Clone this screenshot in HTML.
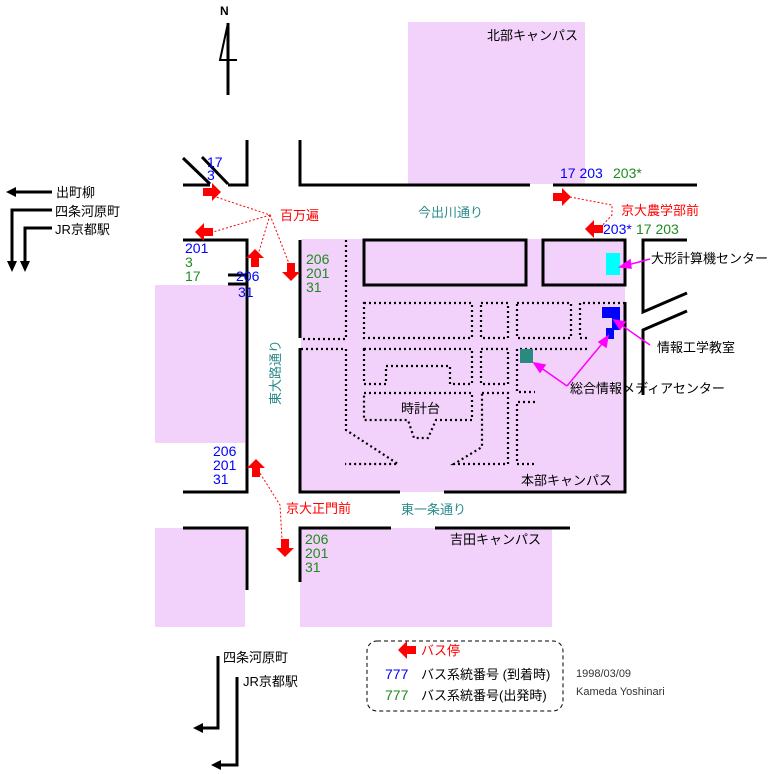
<!DOCTYPE html>
<html><head><meta charset="utf-8">
<style>
html,body{margin:0;padding:0;background:#fff;}
svg{display:block;}
text{font-family:"Liberation Sans","Noto Sans CJK JP",sans-serif;font-size:13px;}
.b{fill:#0000ff;font-size:14px;}
.g{fill:#208a20;font-size:14px;}
.r{fill:#ff0000;}
.t{fill:#2a8a8a;}
.k{fill:#000;}
</style></head><body>
<svg width="780" height="774" viewBox="0 0 780 774" xmlns="http://www.w3.org/2000/svg">
<defs>
<g id="ar"><polygon points="0,-4 9,-4 9,-9 18,0 9,9 9,4 0,4" fill="#ff0000" transform="translate(-9,0)"/></g>
</defs>
<g fill="#f2d2fa">
<rect x="408" y="22" width="177" height="162"/>
<rect x="155" y="285" width="90" height="158"/>
<rect x="301" y="239" width="324" height="253"/>
<rect x="155" y="528" width="90" height="99"/>
<rect x="300" y="528" width="252" height="99"/>
</g>
<g stroke="#000" stroke-width="3" fill="none">
<line x1="183" y1="158" x2="210" y2="184"/>
<line x1="202" y1="157" x2="228" y2="184"/>
<polyline points="183,185 210,185"/>
<polyline points="228,185 247,185 247,140"/>
<polyline points="300,140 300,185 530,185"/>
<line x1="553" y1="185" x2="697" y2="185"/>
<polyline points="183,240 247,240 247,492 183,492"/>
<line x1="228" y1="275" x2="247" y2="275"/>
<line x1="228" y1="284" x2="247" y2="284"/>
<polyline points="183,528 247,528 247,590"/>
<polyline points="300,338 300,240"/>
<polyline points="300,348 300,492 400,492"/>
<polyline points="444,492 625,492 625,302"/>
<rect x="364" y="240" width="162" height="45"/>
<rect x="543" y="240" width="82" height="45"/>
<polyline points="687,240 643,240 643,312 687,293"/>
<polyline points="687,311 643,330 643,395"/>
<polyline points="391,528 300,528 300,582"/>
<line x1="435" y1="528" x2="570" y2="528"/>
<line x1="228" y1="23" x2="228" y2="95"/>
</g>
<polyline points="228,23 220,60 237,60" stroke="#000" stroke-width="2" fill="none"/>
<text x="220" y="15" style="font-weight:bold;font-size:12px">N</text>
<g stroke="#000" stroke-width="2.2" stroke-dasharray="2,3" fill="none">
<polyline points="346,240 346,339 301,339"/>
<polyline points="301,349 346,349 346,430 398,464 345,464"/>
<rect x="364" y="303" width="108" height="35"/>
<rect x="481" y="303" width="27" height="35"/>
<rect x="517" y="303" width="54" height="35"/>
<polyline points="625,303 580,303 580,338 590,338"/>
<path d="M364,349 H472 V384 H450 V366 H386 V384 H364 Z"/>
<rect x="481" y="349" width="27" height="35"/>
<polyline points="587,349 517,349 517,392 535,392"/>
<path d="M364,393 H472 V420 H436 L428,438 H414 L408,420 H364 Z"/>
<path d="M482,393 H508 V464 H454 L482,447 Z"/>
<polyline points="535,402 517,402 517,464 535,464"/>
</g>
<rect x="606" y="253" width="14" height="22" fill="#00ffff"/>
<g fill="#0000ff">
<rect x="602" y="307" width="18" height="11"/>
<rect x="612" y="307" width="8" height="23"/>
<rect x="606" y="328" width="8" height="11"/>
</g>
<rect x="520" y="349" width="13" height="14" fill="#2a8a80"/>
<g stroke="#ff00ff" stroke-width="1.5" fill="#ff00ff">
<line x1="650" y1="259" x2="624" y2="266"/>
<polygon points="620,267 630,260 631,268"/>
<line x1="650" y1="345" x2="617" y2="322"/>
<polygon points="614,320 625,322 620,329"/>
<line x1="567" y1="386" x2="537" y2="365"/>
<polygon points="534,363 545,365 540,372"/>
<line x1="567" y1="386" x2="606" y2="339"/>
<polygon points="608,336 606,347 599,342"/>
</g>
<g stroke="#ff0000" stroke-width="1" stroke-dasharray="2,2" fill="none">
<polyline points="213,196 270,215 213,232"/>
<polyline points="270,215 257,258"/>
<polyline points="270,215 290,266"/>
<polyline points="570,197 612,205 612,215 600,228"/>
<polyline points="258,470 280,505 282,540"/>
</g>
<use href="#ar" transform="translate(212,192)"/>
<use href="#ar" transform="translate(204,232) rotate(180)"/>
<use href="#ar" transform="translate(255,258) rotate(-90)"/>
<use href="#ar" transform="translate(291,272) rotate(90)"/>
<use href="#ar" transform="translate(562,197)"/>
<use href="#ar" transform="translate(594,229) rotate(180)"/>
<use href="#ar" transform="translate(256,468) rotate(-90)"/>
<use href="#ar" transform="translate(285,548) rotate(90)"/>
<use href="#ar" transform="translate(407,650) rotate(180)"/>
<text class="b" x="207" y="167">17</text><text class="b" x="207" y="180">3</text>
<text class="b" x="185" y="253">201</text><text class="g" x="185" y="267">3</text><text class="g" x="185" y="281">17</text>
<text class="b" x="236" y="281">206</text><text class="b" x="238" y="297">31</text>
<text class="g" x="306" y="264">206</text><text class="g" x="306" y="278">201</text><text class="g" x="306" y="292">31</text>
<text class="b" x="560" y="178">17 203</text><text class="g" x="613" y="178">203*</text>
<text class="b" x="603" y="234">203*</text><text class="g" x="636" y="234">17 203</text>
<text class="b" x="213" y="456">206</text><text class="b" x="213" y="470">201</text><text class="b" x="213" y="484">31</text>
<text class="g" x="305" y="544">206</text><text class="g" x="305" y="558">201</text><text class="g" x="305" y="572">31</text>
<text class="r" x="280" y="220">百万遍</text>
<text class="r" x="621" y="215">京大農学部前</text>
<text class="r" x="286" y="513">京大正門前</text>
<text class="k" x="487" y="40">北部キャンパス</text>
<text class="t" x="418" y="217">今出川通り</text>
<text class="t" transform="translate(280,405) rotate(-90)" x="0" y="0">東大路通り</text>
<text class="k" x="401" y="413">時計台</text>
<text class="k" x="521" y="485">本部キャンパス</text>
<text class="t" x="401" y="514">東一条通り</text>
<text class="k" x="450" y="544">吉田キャンパス</text>
<text class="k" x="651" y="263">大形計算機センター</text>
<text class="k" x="657" y="352">情報工学教室</text>
<text class="k" x="570" y="393">総合情報メディアセンター</text>
<g stroke="#000" stroke-width="3" fill="none">
<line x1="14" y1="192" x2="52" y2="192"/>
<polyline points="52,210 12,210 12,262"/>
<polyline points="52,228 25,228 25,262"/>
<polyline points="218,656 218,728 200,728"/>
<polyline points="237,677 237,765 218,765"/>
</g>
<g fill="#000">
<polygon points="6,192 16,187 16,197"/>
<polygon points="12,272 7,261 17,261"/>
<polygon points="25,272 20,261 30,261"/>
<polygon points="193,728 203,723 203,733"/>
<polygon points="211,765 221,760 221,770"/>
</g>
<text class="k" x="56" y="197">出町柳</text>
<text class="k" x="55" y="216">四条河原町</text>
<text class="k" x="55" y="234">JR京都駅</text>
<text class="k" x="223" y="662">四条河原町</text>
<text class="k" x="243" y="686">JR京都駅</text>
<rect x="367" y="641" width="196" height="70" rx="10" ry="10" fill="none" stroke="#000" stroke-width="1" stroke-dasharray="4,3"/>
<text class="r" x="421" y="655">バス停</text>
<text class="b" x="385" y="679">777</text><text class="k" x="421" y="679">バス系統番号 (到着時)</text>
<text class="g" x="385" y="700">777</text><text class="k" x="421" y="700">バス系統番号(出発時)</text>
<text x="576" y="677" style="font-size:11px;fill:#333">1998/03/09</text>
<text x="576" y="695" style="font-size:11px;fill:#333">Kameda Yoshinari</text>
</svg>
</body></html>
